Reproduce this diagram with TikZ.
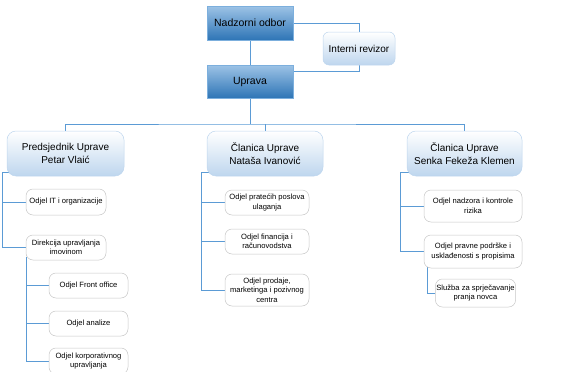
\documentclass[tikz,border=0pt]{standalone}
\usepackage{fontspec}
\setmainfont{Liberation Sans}
\usetikzlibrary{calc,backgrounds}

\definecolor{tamnoPlava}{RGB}{46,117,182}
\definecolor{svijetloPlava}{RGB}{157,195,230}
\definecolor{blijedoPlava}{RGB}{190,214,238}
\definecolor{linijaPlava}{RGB}{91,155,213}

\begin{document}
\begin{tikzpicture}[x=1pt,y=1pt,yscale=-1,xscale=1,
    uprava/.style={draw=linijaPlava!80, line width=0.5pt, top color=svijetloPlava, bottom color=tamnoPlava,
      minimum width=86pt, minimum height=34pt, inner sep=1pt, align=center, font=\fontsize{10.5}{13}\selectfont},
    clan/.style={draw=blijedoPlava, line width=0.5pt, rounded corners=9pt, top color=white, bottom color=blijedoPlava,
      minimum height=45pt, inner sep=1pt, align=center, font=\fontsize{10}{13}\selectfont},
    odjel/.style={draw=black!22, line width=0.5pt, rounded corners=7pt, fill=white,
      minimum height=25pt, inner sep=1pt, align=center, font=\fontsize{7.6}{9.5}\selectfont},
    veza/.style={draw=linijaPlava, line width=0.9pt}]
    \useasboundingbox (0,0) rectangle (563,372);
    %Top
    \node [uprava] (nadzor) at (250,23) {Nadzorni odbor};
    \node [clan, minimum width=72pt, minimum height=33pt, rounded corners=6pt] (revizor) at (359,48.5) {Interni revizor};
    \node [uprava, minimum height=33pt] (upr) at (250,81.5) {Uprava};
    %Members
    \node [clan, minimum width=117pt] (predsj) at (65.5,153.5) {Predsjednik Uprave\\Petar Vlaić};
    \node [clan, minimum width=116pt] (natasa) at (265,153.5) {Članica Uprave\\Nataša Ivanović};
    \node [clan, minimum width=115pt] (senka) at (464.5,153.5) {Članica Uprave\\Senka Fekeža Klemen};
    %Left column
    \node [odjel, minimum width=80pt, minimum height=26pt] (it) at (66,202) {Odjel IT i organizacije};
    \node [odjel, minimum width=80pt] (direk) at (66,247.5) {Direkcija upravljanja\\imovinom};
    \node [odjel, minimum width=79pt] (front) at (88.5,285.5) {Odjel Front office};
    \node [odjel, minimum width=79pt] (analize) at (88.5,323.5) {Odjel analize};
    \node [odjel, minimum width=79pt, minimum height=26pt] (korp) at (88.5,361) {Odjel korporativnog\\upravljanja};
    %Middle column
    \node [odjel, minimum width=84pt] (pratecih) at (267,202.5) {Odjel pratećih poslova\\ulaganja};
    \node [odjel, minimum width=84pt] (financ) at (267,241.5) {Odjel financija i\\računovodstva};
    \node [odjel, minimum width=84pt, minimum height=32pt] (prodaje) at (267,290) {Odjel prodaje,\\marketinga i pozivnog\\centra};
    %Right column
    \node [odjel, minimum width=98pt, minimum height=32pt] (nadzora) at (473,206) {Odjel nadzora i kontrole\\rizika};
    \node [odjel, minimum width=98pt, minimum height=33pt] (pravne) at (473,251.5) {Odjel pravne podrške i\\usklađenosti s propisima};
    \node [odjel, minimum width=75pt, minimum height=28pt] (sluzba) at (475.5,293) {Služba za sprječavanje\\pranja novca};
    \coordinate (bus) at (250,124);
    \begin{scope}[on background layer]
        \draw [veza] (nadzor) -- (upr);
        \draw [veza] (nadzor.east) -| (revizor.north);
        \draw [veza] (revizor.south) |- ($(upr.east)+(0,-10)$);
        \draw [veza] (upr) -- (bus);
        \draw [veza] (predsj.north) |- (bus) -| (senka.north);
        \draw [veza] (natasa.north) -- (natasa.north|-bus);
        \draw [veza] ($(predsj.south west)+(6,-4)$) -- ++(-10,0) |- (it.west);
        \draw [veza] ($(predsj.south west)+(6,-4)$) -- ++(-10,0) |- (direk.west);
        \draw [veza] ($(direk.south west)+(1,-3)$) |- (front.west);
        \draw [veza] ($(direk.south west)+(1,-3)$) |- (analize.west);
        \draw [veza] ($(direk.south west)+(1,-3)$) |- (korp.west);
        \draw [veza] ($(natasa.south west)+(5,-4)$) -- ++(-10,0) |- (pratecih.west);
        \draw [veza] ($(natasa.south west)+(5,-4)$) -- ++(-10,0) |- (financ.west);
        \draw [veza] ($(natasa.south west)+(5,-4)$) -- ++(-10,0) |- (prodaje.west);
        \draw [veza] ($(senka.south west)+(5,-4)$) -- ++(-11,0) |- (nadzora.west);
        \draw [veza] ($(senka.south west)+(5,-4)$) -- ++(-11,0) |- (pravne.west);
        \draw [veza] ($(pravne.south west)+(4,-3)$) |- (sluzba.west);
    \end{scope}
\end{tikzpicture}
\end{document}
